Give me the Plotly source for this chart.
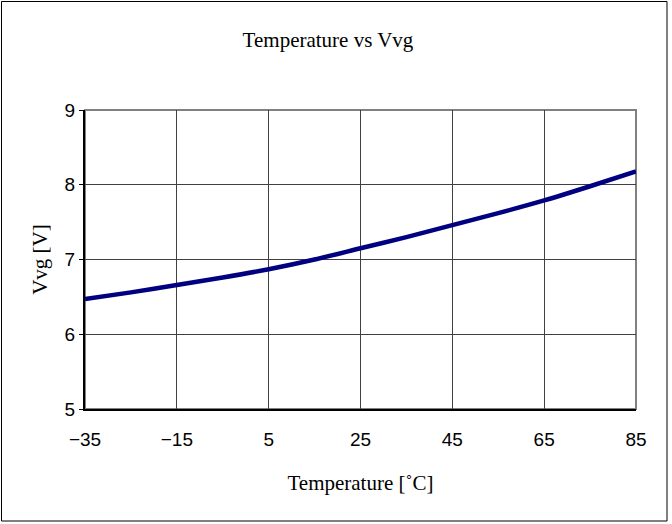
import plotly.graph_objects as go

temps = [-35, -25, -15, -5, 5, 15, 25, 35, 45, 55, 65, 75, 85]
vvg = [6.47, 6.56, 6.66, 6.76, 6.87, 7.00, 7.15, 7.30, 7.46, 7.62, 7.79, 7.98, 8.18]
x_ticks = [-35, -15, 5, 25, 45, 65, 85]
x_tick_labels = ["\u221235", "\u221215", "5", "25", "45", "65", "85"]
y_ticks = [5, 6, 7, 8, 9]

fig = go.Figure()
fig.add_trace(go.Scatter(x=temps, y=vvg, mode="lines",
                         line=dict(color="#000080", width=4.5, shape="spline", smoothing=0.8),
                         showlegend=False, hoverinfo="skip"))

L, R, T, B = 85, 36, 110, 115
W, H = 672, 524
pw, ph = W - L - R, H - T - B

fig.update_layout(
    width=W, height=H,
    margin=dict(l=L, r=R, t=T, b=B, pad=0),
    paper_bgcolor="white", plot_bgcolor="white",
    title=dict(text="Temperature vs Vvg", x=(W/2 - 8)/W, xanchor="center",
               y=1 - 40/H, yanchor="middle",
               font=dict(family="Liberation Serif", size=21, color="black")),
    xaxis=dict(range=[-35, 85], tickvals=x_ticks, ticktext=x_tick_labels,
               showgrid=True, gridcolor="#404040", gridwidth=1,
               showline=True, linecolor="black", linewidth=2,
               ticks="", zeroline=False, ticklabelstandoff=12,
               tickfont=dict(family="Liberation Sans", size=19, color="black"),
               title=dict(text="Temperature [\u02daC]", standoff=27,
                          font=dict(family="Liberation Serif", size=21, color="black"))),
    yaxis=dict(range=[5, 9], tickvals=y_ticks,
               showgrid=True, gridcolor="#404040", gridwidth=1,
               showline=True, linecolor="black", linewidth=2,
               ticks="outside", ticklen=4, tickcolor="black", zeroline=False,
               tickfont=dict(family="Liberation Sans", size=19, color="black"),
               title=dict(text="Vvg [V]", standoff=11,
                          font=dict(family="Liberation Serif", size=21, color="black"))),
    shapes=[
        dict(type="rect", xref="paper", yref="paper", x0=0, x1=1, y0=0, y1=1,
             line=dict(color="#808080", width=2), layer="below"),
        dict(type="rect", xref="paper", yref="paper",
             x0=(1.5 - L)/pw, x1=(667 - L)/pw, y0=(T + ph - 521)/ph, y1=(T + ph - 1.5)/ph,
             line=dict(color="black", width=1), layer="below"),
    ],
)

fig.write_html("out.html", config={"displayModeBar": False},
               post_script="document.body.style.margin='0';document.body.style.overflow='hidden';")
